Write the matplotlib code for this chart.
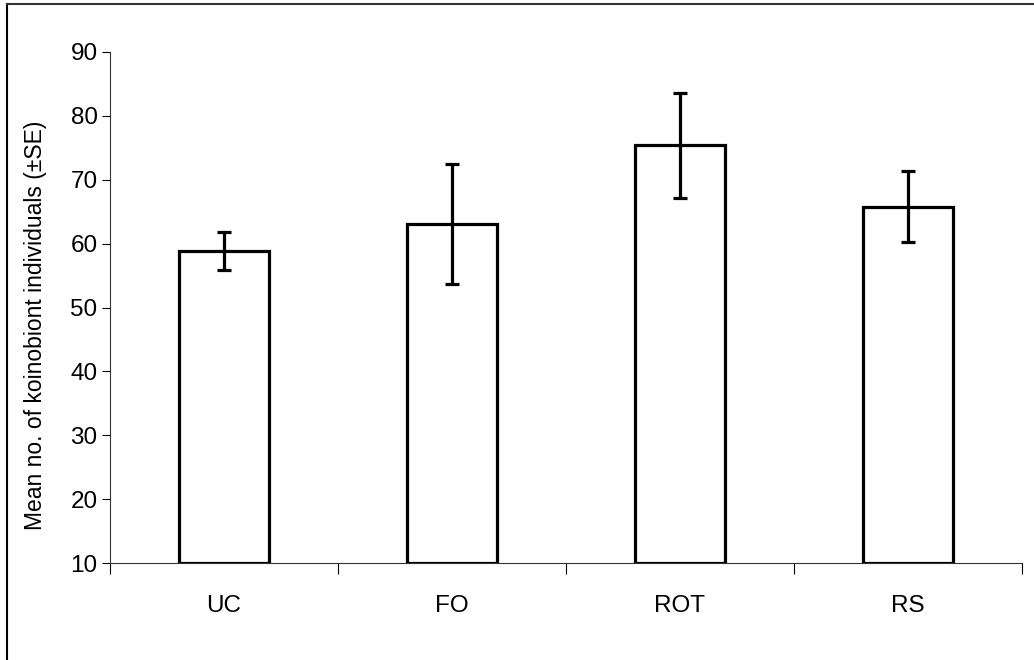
import matplotlib
matplotlib.use("Agg")
import matplotlib.pyplot as plt
from matplotlib.lines import Line2D
import numpy as np

treatments = ["UC", "FO", "ROT", "RS"]
mean_individuals = [58.8, 63.1, 75.4, 65.8]
se_individuals = [3.0, 9.4, 8.2, 5.5]
y_ticks = [10, 20, 30, 40, 50, 60, 70, 80, 90]

plt.rcParams["font.family"] = ["Liberation Sans", "DejaVu Sans"]

W, H = 1034, 660
fig = plt.figure(figsize=(W / 100, H / 100), dpi=100)
ax = fig.add_axes([110 / W, (H - 563) / H, (1022 - 110) / W, (563 - 52) / H])

x = np.arange(len(treatments))
base = y_ticks[0]
heights = [m - base for m in mean_individuals]
ax.bar(x, heights, bottom=base, width=0.395, facecolor="white",
       edgecolor="black", linewidth=2.3, zorder=2)
ax.errorbar(x, mean_individuals, yerr=se_individuals, fmt="none",
            ecolor="black", elinewidth=2.3, capsize=5, capthick=2.3, zorder=3)

ax.set_xlim(-0.5, len(treatments) - 0.5)
ax.set_ylim(y_ticks[0], y_ticks[-1])
ax.set_yticks(y_ticks)
ax.tick_params(axis="y", which="major", direction="out", length=6,
               width=0.8, pad=3, labelsize=17.5)

# category boundaries carry the tick marks, labels sit at bar centres
ax.set_xticks(np.arange(len(treatments) + 1) - 0.5)
ax.set_xticklabels([])
ax.set_xticks(x, minor=True)
ax.set_xticklabels(treatments, minor=True)
ax.tick_params(axis="x", which="major", direction="out", length=8, width=0.8)
ax.tick_params(axis="x", which="minor", length=0, pad=23, labelsize=17.5)

for side in ("top", "right"):
    ax.spines[side].set_visible(False)
for side in ("left", "bottom"):
    ax.spines[side].set_linewidth(0.8)
    ax.spines[side].set_color("#333333")

fig.text(36 / W, 1 - 325 / H, "Mean no. of koinobiont individuals (\u00b1SE)",
         rotation=90, ha="center", va="center", fontsize=16.5)

# outer chart border
fig.add_artist(Line2D([7 / W, 7 / W], [0, 1 - 4 / H], transform=fig.transFigure,
                      color="black", linewidth=1.5))
fig.add_artist(Line2D([7 / W, 1], [1 - 4 / H, 1 - 4 / H], transform=fig.transFigure,
                      color="#333333", linewidth=1.5))

fig.savefig("out.png", dpi=100, facecolor="white")
